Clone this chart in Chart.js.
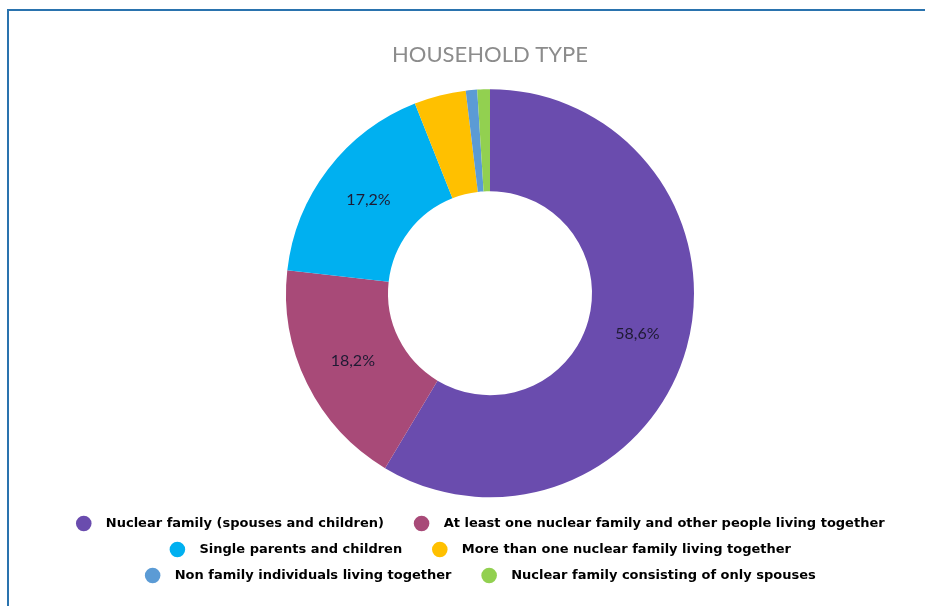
<!DOCTYPE html>
<html>
<head>
<meta charset="utf-8">
<script src="https://cdn.jsdelivr.net/npm/chart.js@4/dist/chart.umd.min.js"></script>
<style>
  html, body { margin: 0; padding: 0; background: #fff; overflow: hidden; }
  #frame {
    position: absolute; left: 7px; top: 9px; width: 930px; height: 610px;
    border-top: 2px solid #2a73ae; border-left: 2px solid #2a73ae;
  }
  #chart { position: absolute; left: 0; top: 0; }
</style>
</head>
<body>
<div id="frame"></div>
<canvas id="chart" width="925" height="606"></canvas>
<script>
const categories = [
  'Nuclear family (spouses and children)',
  'At least one nuclear family and other people living together',
  'Single parents and children',
  'More than one nuclear family living together',
  'Non family individuals living together',
  'Nuclear family consisting of only spouses'
];
const shares = [58.6, 18.2, 17.2, 4.1, 0.9, 1.0];
const sliceColors = ['#6a4cae', '#a84a78', '#00b0f0', '#ffc000', '#5b9bd5', '#92d050'];

// percentage text inside the bigger slices, decimal comma
const sliceLabels = {
  id: 'sliceLabels',
  afterDatasetsDraw(chart) {
    const { ctx } = chart;
    const meta = chart.getDatasetMeta(0);
    ctx.save();
    ctx.font = '16px Lato, sans-serif';
    ctx.fillStyle = '#1e1a33';
    ctx.textAlign = 'center';
    ctx.textBaseline = 'middle';
    meta.data.forEach((arc, i) => {
      const v = shares[i];
      if (v < 10) return;
      const p = arc.tooltipPosition();
      ctx.fillText(v.toFixed(1).replace('.', ',') + '%', p.x, p.y);
    });
    ctx.restore();
  }
};

new Chart(document.getElementById('chart'), {
  type: 'doughnut',
  data: {
    labels: categories,
    datasets: [{
      data: shares,
      backgroundColor: sliceColors,
      borderWidth: 0
    }]
  },
  options: {
    responsive: false,
    animation: false,
    cutout: '50%',
    radius: 204,
    layout: { padding: { left: 55, right: 0, top: 20, bottom: 14 } },
    plugins: {
      title: {
        display: true,
        text: 'HOUSEHOLD TYPE',
        color: '#8c8c8c',
        font: { family: 'Lato, sans-serif', size: 22, weight: 'normal' },
        padding: { top: 22, bottom: 14 }
      },
      legend: {
        position: 'bottom',
        labels: {
          usePointStyle: true,
          pointStyle: 'circle',
          boxHeight: 11,
          padding: 13,
          color: '#3c3c3c',
          font: { family: '"DejaVu Sans", sans-serif', size: 13, weight: 'bold' },
          generateLabels(chart) {
            return categories.map((name, i) => ({
              text: '  ' + name + '    ',
              fillStyle: sliceColors[i],
              strokeStyle: sliceColors[i],
              lineWidth: 0,
              pointStyle: 'circle',
              hidden: false,
              index: i
            }));
          }
        }
      },
      tooltip: { enabled: false }
    }
  },
  plugins: [sliceLabels]
});
</script>
</body>
</html>
